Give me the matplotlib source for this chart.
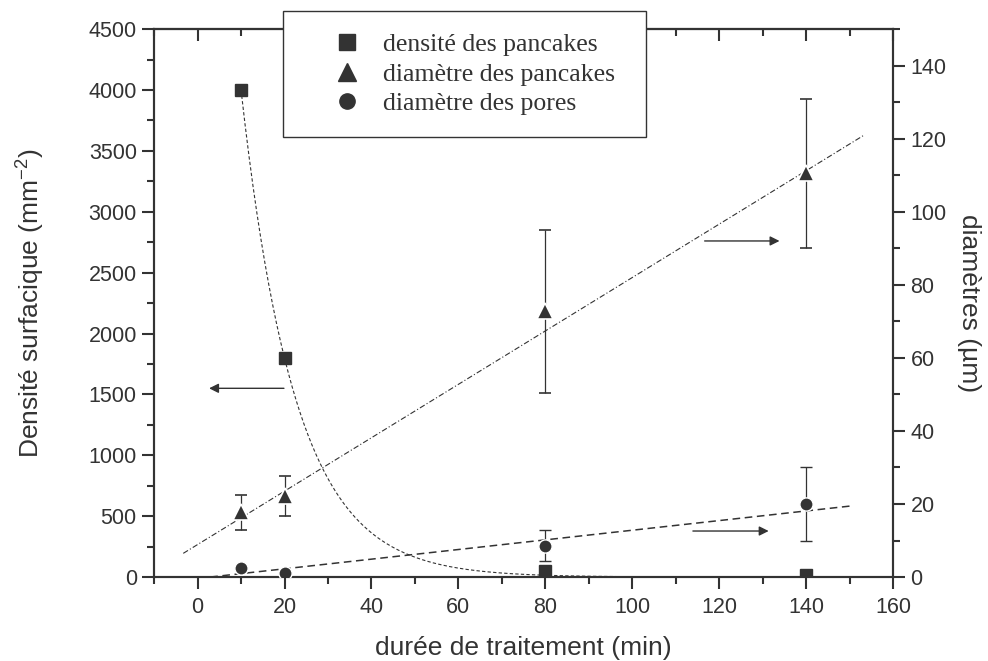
import numpy as np
import matplotlib
matplotlib.use("Agg")
import matplotlib.pyplot as plt
from matplotlib.ticker import MultipleLocator
from matplotlib.lines import Line2D
from matplotlib.patches import Rectangle

# data
t_density = [10, 20, 80, 140]
density = [4000, 1800, 50, 20]

t_diam = [10, 20, 80, 140]
diam_pancakes = [17.7, 22.2, 72.8, 110.5]
diam_pancakes_err = [4.8, 5.4, 22.3, 20.3]

diam_pores = [2.4, 1.1, 8.6, 20.0]
diam_pores_err = [0.0, 0.0, 4.3, 10.0]

# fit parameters (exp decay for density, linear for diameters)
decay_amp, decay_tau = 8900.0, 12.5
fit_pan_slope, fit_pan_icpt = 0.731, 8.9
fit_por_slope, fit_por_icpt = 0.132, -0.38

legend_labels = ["densité des pancakes", "diamètre des pancakes", "diamètre des pores"]

dark = "#333333"
plt.rcParams["font.family"] = ["Liberation Sans", "DejaVu Sans"]
plt.rcParams["mathtext.default"] = "regular"

fig = plt.figure(figsize=(9.88, 6.61), dpi=100)
ax = fig.add_axes([0.156, 0.127, 0.748, 0.829])
ax2 = ax.twinx()

# density fit curve + points
xf = np.linspace(10, 100, 200)
ax.plot(xf, decay_amp * np.exp(-xf / decay_tau), color=dark, lw=0.8, ls=(0, (3, 2)))
ax.plot(t_density, density, "s", color=dark, ms=8.5, zorder=5)

# diameter fits
xp = np.linspace(-3.3, 153.5, 50)
ax2.plot(xp, fit_pan_slope * xp + fit_pan_icpt, color=dark, lw=0.8, ls=(0, (5, 2, 1, 2)))
xo = np.linspace(2.9, 150, 50)
ax2.plot(xo, fit_por_slope * xo + fit_por_icpt, color=dark, lw=1.1, ls=(0, (5, 3)))

ax2.errorbar(t_diam, diam_pancakes, yerr=diam_pancakes_err, fmt="^", color=dark,
             ms=11, mec="white", mew=1.2, ecolor=dark, elinewidth=0.9, capsize=4, capthick=0.9, zorder=5)
ax2.errorbar(t_diam, diam_pores, yerr=diam_pores_err, fmt="o", color=dark,
             ms=9.5, mec="white", mew=1.0, ecolor=dark, elinewidth=0.9, capsize=4, capthick=0.9, zorder=5)

# arrows
arrow = dict(arrowstyle="-|>", color=dark, lw=1.0, mutation_scale=14)
ax.annotate("", xy=(2, 1550), xytext=(20.5, 1550), arrowprops=arrow)
ax2.annotate("", xy=(134.5, 92), xytext=(116, 92), arrowprops=arrow)
ax2.annotate("", xy=(132, 12.6), xytext=(113.3, 12.6), arrowprops=arrow)

# axes
ax.set_xlim(-10, 160)
ax.set_ylim(0, 4500)
ax2.set_ylim(0, 150)
ax.xaxis.set_major_locator(MultipleLocator(20))
ax.xaxis.set_minor_locator(MultipleLocator(10))
ax.yaxis.set_major_locator(MultipleLocator(500))
ax.yaxis.set_minor_locator(MultipleLocator(250))
ax2.yaxis.set_major_locator(MultipleLocator(20))
ax2.yaxis.set_minor_locator(MultipleLocator(10))

for a in (ax, ax2):
    for s in a.spines.values():
        s.set_linewidth(1.5)
        s.set_color(dark)

ax.tick_params(axis="x", which="both", bottom=True, top=False, direction="out", colors=dark,
               labelsize=15.5, width=1.5, pad=6)
ax.tick_params(axis="x", which="major", length=8.5)
ax.tick_params(axis="x", which="minor", length=5)
ax.tick_params(axis="y", which="both", left=True, right=False, direction="out", colors=dark,
               labelsize=15.5, width=1.5, pad=4)
ax.tick_params(axis="y", which="major", length=8.5)
ax.tick_params(axis="y", which="minor", length=5)
ax2.tick_params(axis="y", which="both", direction="out", colors=dark, labelsize=15.5, width=1.5, pad=4)
ax2.tick_params(axis="y", which="major", length=8.5)
ax2.tick_params(axis="y", which="minor", length=5)

# top ticks point inward
top = ax.secondary_xaxis("top")
top.xaxis.set_major_locator(MultipleLocator(20))
top.xaxis.set_minor_locator(MultipleLocator(10))
top.tick_params(which="both", direction="in", labeltop=False, colors=dark, width=1.5)
top.tick_params(which="major", length=8.5)
top.tick_params(which="minor", length=5)
top.spines["top"].set_linewidth(1.5)
top.spines["top"].set_color(dark)

ax.set_xlabel("durée de traitement (min)", fontsize=19, color=dark, labelpad=13)
ax.set_ylabel("Densité surfacique (mm$^{-2}$)", fontsize=19, color=dark, labelpad=30)
ax2.set_ylabel("diamètres (µm)", fontsize=19, color=dark, rotation=270, labelpad=25)

# legend box (drawn over the top spine like in the original)
fig.patches.append(Rectangle((283 / 988, 1 - 137 / 661), 363 / 988, 126 / 661,
                             transform=fig.transFigure, facecolor="white", edgecolor=dark,
                             lw=1.0, zorder=5))
handles = [Line2D([], [], ls="none", marker=m, color=dark, ms=s)
           for m, s in [("s", 11), ("^", 13.5), ("o", 11)]]
leg = fig.legend(handles, legend_labels, loc="upper left", bbox_to_anchor=(297 / 988, 1 - 14 / 661),
                 frameon=False, prop={"family": "Liberation Serif", "size": 18.5}, labelcolor=dark,
                 handlelength=2.4, handletextpad=0.2, borderpad=0.75, labelspacing=0.25,
                 borderaxespad=0)
leg.set_zorder(10)

fig.savefig("out.png", dpi=100)
